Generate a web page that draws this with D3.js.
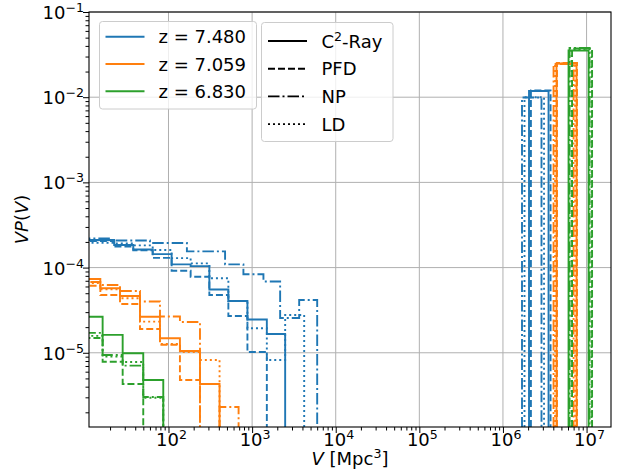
<!DOCTYPE html>
<html><head><meta charset="utf-8">
<script src="https://cdn.jsdelivr.net/npm/d3@7"></script>
<style>body{margin:0;background:#fff}svg{display:block}text{font-family:"DejaVu Sans",sans-serif}</style>
</head><body><svg id="c" width="627" height="475"></svg>
<script>
// ---------- data ----------
const redshifts = ["z = 7.480", "z = 7.059", "z = 6.830"];
const colors = ["#1f77b4", "#ff7f0e", "#2ca02c"];
const models = ["C2-Ray", "PFD", "NP", "LD"];
const dashes = [null, "7,3", "11.5,3,2,3", "2,3"];

// bin edges (Mpc^3)
const edgesZ748 = [7.8, 13.3, 22.4, 37.9, 64.7, 109, 184, 308, 520, 879, 1500, 2485, 4196];
const edgesZ748NP = [7.4, 21, 60, 166, 475, 787, 1366, 2164, 3655, 6002];
const edgesZ7059 = [8.96, 15.3, 26.3, 45.6, 79.1, 137, 238, 408, 689];
const edgesZ6830 = [9.34, 16.3, 28.3, 49.9, 86.6];

// z = 7.480 small-region VP(V)
const z748C2  = [2.11e-4, 2.11e-4, 1.84e-4, 1.63e-4, 1.44e-4, 1.09e-4, 1.04e-4, 5.53e-5, 4.05e-5, 2.46e-5, 1.66e-5, 0];
const z748PFD = [2.05e-4, 2.05e-4, 1.77e-4, 1.59e-4, 1.30e-4, 9.19e-5, 7.82e-5, 4.77e-5, 2.70e-5, 1.02e-5, 0, 0];
const z748NP  = [2.20e-4, 2.08e-4, 1.94e-4, 1.55e-4, 1.09e-4, 8.34e-5, 6.87e-5, 2.56e-5, 4.17e-5];
const z748LD  = [1.96e-4, 1.96e-4, 1.92e-4, 1.82e-4, 1.61e-4, 1.29e-4, 1.12e-4, 7.49e-5, 4.05e-5, 1.94e-5, 8.23e-6, 2.78e-5];
// z = 7.059
const z7059C2  = [7.35e-5, 5.71e-5, 4.64e-5, 2.65e-5, 1.48e-5, 1.05e-5, 4.30e-6, 0];
const z7059PFD = [6.13e-5, 4.77e-5, 3.74e-5, 1.90e-5, 1.24e-5, 4.79e-6, 0, 0];
const z7059NP  = [6.78e-5, 6.25e-5, 5.31e-5, 4.00e-5, 2.67e-5, 2.30e-5, 0, 2.31e-6];
const z7059LD  = [6.60e-5, 5.56e-5, 4.36e-5, 2.32e-5, 1.27e-5, 1.02e-5, 8.23e-6, 0];
// z = 6.830
const z6830C2  = [2.65e-5, 1.62e-5, 9.86e-6, 4.79e-6];
const z6830PFD = [1.49e-5, 7.86e-6, 4.30e-6, 0];
const z6830NP  = [1.71e-5, 9.42e-6, 7.06e-6, 3.03e-6];
const z6830LD  = [1.58e-5, 9.0e-6, 7.80e-6, 2.97e-6];

// largest (percolating) region bin per model: [C2-Ray, PFD, NP, LD]
const bigLoZ748  = [2.05e6, 2.16e6, 1.69e6, 1.81e6];
const bigHiZ748  = [3.51e6, 3.71e6, 2.89e6, 3.10e6];
const bigValZ748 = [1.18e-2, 1.20e-2, 9.9e-3, 1.0e-2];
const bigLoZ7059  = [4.37e6, 4.43e6, 4.03e6, 4.20e6];
const bigHiZ7059  = [7.59e6, 7.69e6, 6.99e6, 7.29e6];
const bigValZ7059 = [2.49e-2, 2.52e-2, 2.45e-2, 2.49e-2];
const bigLoZ6830  = [6.09e6, 6.71e6, 6.26e6, 6.61e6];
const bigHiZ6830  = [1.057e7, 1.164e7, 1.086e7, 1.148e7];
const bigValZ6830 = [3.53e-2, 3.73e-2, 3.78e-2, 3.68e-2];

const xMajor = [1e2, 1e3, 1e4, 1e5, 1e6, 1e7];
const xMajorExp = ["2", "3", "4", "5", "6", "7"];
const yMajor = [1e-1, 1e-2, 1e-3, 1e-4, 1e-5];
const yMajorExp = ["\u22121", "\u22122", "\u22123", "\u22124", "\u22125"];

// ---------- layout ----------
const L = 89, R = 611, T = 12, B = 427;
const FS = 18;
const svg = d3.select("#c");
const x = d3.scaleLog().domain([11.2, 1.96e7]).range([L, R]);
const y = d3.scaleLog().domain([1.345e-6, 0.1]).range([B, T]);

// minor ticks
function minors(lo, hi) {
  const out = [];
  for (let e = Math.floor(Math.log10(lo)); e <= Math.ceil(Math.log10(hi)); e++)
    for (let m = 2; m <= 9; m++) { const v = m * Math.pow(10, e); if (v >= lo && v <= hi) out.push(v); }
  return out;
}
const xMinor = minors(11.2, 1.96e7);
const yMinor = minors(1.345e-6, 0.1);

// grid
const grid = svg.append("g").attr("stroke", "#b0b0b0").attr("stroke-width", 1);
xMajor.forEach(v => grid.append("line").attr("x1", x(v)).attr("x2", x(v)).attr("y1", T).attr("y2", B));
yMajor.forEach(v => grid.append("line").attr("x1", L).attr("x2", R).attr("y1", y(v)).attr("y2", y(v)));

// series
svg.append("clipPath").attr("id", "clip").append("rect").attr("x", L).attr("y", T).attr("width", R - L).attr("height", B - T);
const plot = svg.append("g").attr("clip-path", "url(#clip)");
function stepPath(edges, vals) {
  const yb = B + 60;
  let p = "M" + x(edges[0]) + "," + yb;
  vals.forEach((v, i) => { p += "V" + (v > 0 ? y(v) : yb) + "H" + x(edges[i + 1]); });
  return p + "V" + yb;
}
const groups = [
  { edges: [edgesZ748, edgesZ748, edgesZ748NP, edgesZ748], vals: [z748C2, z748PFD, z748NP, z748LD], lo: bigLoZ748, hi: bigHiZ748, big: bigValZ748 },
  { edges: [edgesZ7059, edgesZ7059, edgesZ7059, edgesZ7059], vals: [z7059C2, z7059PFD, z7059NP, z7059LD], lo: bigLoZ7059, hi: bigHiZ7059, big: bigValZ7059 },
  { edges: [edgesZ6830, edgesZ6830, edgesZ6830, edgesZ6830], vals: [z6830C2, z6830PFD, z6830NP, z6830LD], lo: bigLoZ6830, hi: bigHiZ6830, big: bigValZ6830 }
];
groups.forEach((g, zi) => {
  models.forEach((m, mi) => {
    const d = stepPath(g.edges[mi], g.vals[mi]) + stepPath([g.lo[mi], g.hi[mi]], [g.big[mi]]);
    plot.append("path").attr("d", d).attr("fill", "none").attr("stroke", colors[zi])
      .attr("stroke-width", 1.9).attr("stroke-dasharray", dashes[mi]);
  });
});

// axes frame
svg.append("rect").attr("x", L).attr("y", T).attr("width", R - L).attr("height", B - T)
  .attr("fill", "none").attr("stroke", "#000").attr("stroke-width", 1.1);

// ticks via d3 axes
const xAx = svg.append("g").attr("transform", `translate(0,${B})`);
xAx.call(d3.axisBottom(x).tickValues(xMajor).tickSize(6).tickFormat(""));
const xAxm = svg.append("g").attr("transform", `translate(0,${B})`);
xAxm.call(d3.axisBottom(x).tickValues(xMinor).tickSize(3.5).tickFormat(""));
const yAx = svg.append("g").attr("transform", `translate(${L},0)`);
yAx.call(d3.axisLeft(y).tickValues(yMajor).tickSize(6).tickFormat(""));
const yAxm = svg.append("g").attr("transform", `translate(${L},0)`);
yAxm.call(d3.axisLeft(y).tickValues(yMinor).tickSize(3.5).tickFormat(""));
[xAx, xAxm, yAx, yAxm].forEach(a => { a.select(".domain").remove(); a.selectAll("line").attr("stroke", "#000").attr("stroke-width", 1); });

// tick labels
xMajor.forEach((v, i) => {
  const t = svg.append("text").attr("x", x(v) + 3).attr("y", 446).attr("text-anchor", "middle").attr("font-size", FS);
  t.append("tspan").text("10");
  t.append("tspan").attr("dy", -7).attr("font-size", FS * 0.7).text(xMajorExp[i]);
});
yMajor.forEach((v, i) => {
  const t = svg.append("text").attr("x", 84).attr("y", y(v) + 7).attr("text-anchor", "end").attr("font-size", FS);
  t.append("tspan").text("10");
  t.append("tspan").attr("dy", -7).attr("font-size", FS * 0.7).text(yMajorExp[i]);
});

// axis labels
const xl = svg.append("text").attr("x", (L + R) / 2).attr("y", 465).attr("text-anchor", "middle").attr("font-size", FS);
xl.append("tspan").attr("font-style", "italic").text("V");
xl.append("tspan").text(" [Mpc");
xl.append("tspan").attr("dy", -7).attr("font-size", FS * 0.7).text("3");
xl.append("tspan").attr("dy", 7).text("]");
const yl = svg.append("text").attr("transform", `translate(28,${(T + B) / 2}) rotate(-90)`).attr("text-anchor", "middle").attr("font-size", FS);
yl.append("tspan").attr("font-style", "italic").text("VP");
yl.append("tspan").text("(");
yl.append("tspan").attr("font-style", "italic").text("V");
yl.append("tspan").text(")");

// legend 1 (redshifts)
svg.append("rect").attr("x", 99.5).attr("y", 21.5).attr("width", 157).attr("height", 87.5).attr("rx", 3)
  .attr("fill", "#fff").attr("fill-opacity", 0.8).attr("stroke", "#cccccc").attr("stroke-width", 1);
redshifts.forEach((r, i) => {
  const yy = 36.7 + i * 27.3;
  svg.append("line").attr("x1", 105.5).attr("x2", 144.5).attr("y1", yy).attr("y2", yy).attr("stroke", colors[i]).attr("stroke-width", 1.9);
  svg.append("text").attr("x", 158.5).attr("y", yy + 6.5).attr("font-size", FS).text(r);
});
// legend 2 (models)
svg.append("rect").attr("x", 261.5).attr("y", 22.5).attr("width", 131.5).attr("height", 119).attr("rx", 3)
  .attr("fill", "#fff").attr("fill-opacity", 0.8).attr("stroke", "#cccccc").attr("stroke-width", 1);
models.forEach((m, i) => {
  const yy = 41 + i * 27.7;
  svg.append("line").attr("x1", 268).attr("x2", 307).attr("y1", yy).attr("y2", yy).attr("stroke", "#000")
    .attr("stroke-width", 1.9).attr("stroke-dasharray", dashes[i]);
  const t = svg.append("text").attr("x", 321.5).attr("y", yy + 6.5).attr("font-size", FS);
  if (i === 0) {
    t.append("tspan").text("C");
    t.append("tspan").attr("dy", -7).attr("font-size", FS * 0.7).text("2");
    t.append("tspan").attr("dy", 7).text("-Ray");
  } else t.text(m);
});
</script></body></html>
